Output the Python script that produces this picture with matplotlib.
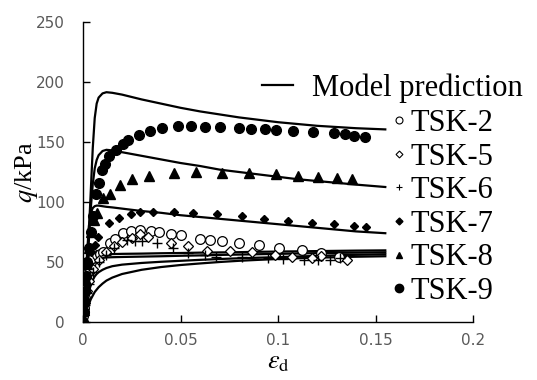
import matplotlib.pyplot as plt
from matplotlib.lines import Line2D

plt.rcParams['mathtext.fontset'] = 'stix'

# model prediction curves (strain, deviator stress kPa)
model_x = [0, 0.001, 0.002, 0.003, 0.004, 0.005, 0.006, 0.007, 0.008, 0.010, 0.012, 0.015,
           0.02, 0.03, 0.04, 0.05, 0.06, 0.07, 0.08, 0.09, 0.10, 0.11, 0.12, 0.13, 0.14, 0.155]
model_q = [
    [0, 20, 45, 75, 110, 145, 170, 182, 187, 190.5, 191.5, 191, 189.5, 185.5, 182, 178.5, 175.5,
     173, 170.5, 168.5, 166.5, 165, 163.5, 162.5, 161.5, 160.5],
    [0, 18, 40, 68, 95, 115, 128, 135, 139, 142.5, 143.5, 143, 141.5, 138.5, 135.5, 132.5, 130,
     127, 125, 123, 121, 119, 117.5, 116, 114.5, 112.5],
    [0, 25, 55, 80, 91, 95, 96.5, 97, 97, 96.5, 96, 95.5, 94.5, 92.5, 91, 89, 87.5, 86, 84.5, 83,
     81.5, 80, 78.5, 77, 75.5, 74],
    [0, 12, 25, 36, 45, 51, 54, 55.5, 56, 56.3, 56.5, 56.6, 56.8, 57, 57.3, 57.5, 57.8, 58, 58.2,
     58.5, 58.7, 58.9, 59.1, 59.3, 59.5, 59.7],
    [0, 10, 22, 32, 40, 46, 50, 52, 53, 53.5, 53.8, 54, 54.2, 54.5, 54.8, 55.2, 55.5, 55.9, 56.2,
     56.5, 56.8, 57.1, 57.4, 57.6, 57.8, 58.1],
    [0, 8, 17, 25, 31, 35, 38, 40, 41.5, 43.5, 45, 46.5, 47.8, 49.2, 50.2, 51, 51.8, 52.5, 53.1,
     53.6, 54.1, 54.6, 55.1, 55.6, 56, 56.5],
    [0, 5, 10, 15, 19, 22, 25, 27, 29, 32, 34.5, 37, 40, 43.5, 45.8, 47.5, 48.8, 50, 51, 51.8,
     52.5, 53.1, 53.6, 54, 54.4, 54.8],
]

tsk2_x = [0, 0.0003, 0.0008, 0.0012, 0.0017, 0.0023, 0.003, 0.004, 0.0051, 0.0072, 0.0087, 0.0103,
          0.0138, 0.0164, 0.0205, 0.0246, 0.0292, 0.0349, 0.039, 0.0451, 0.0503, 0.06, 0.0651,
          0.0713, 0.08, 0.0903, 0.1005, 0.1123, 0.122, 0.1313]
tsk2_q = [5, 12, 20, 28, 36, 42, 46, 50, 53, 56, 57, 58, 66, 69, 74, 76, 77, 76, 75, 73, 72.5,
          69, 68, 67.5, 66, 64, 61.7, 60, 57.5, 54]
tsk5_x = [0.0005, 0.001, 0.002, 0.003, 0.005, 0.008, 0.012, 0.016, 0.020, 0.025, 0.0292, 0.0333,
          0.0451, 0.0538, 0.0636, 0.0754, 0.0867, 0.0985, 0.1072, 0.1174, 0.1221, 0.1354]
tsk5_q = [8, 16, 26, 34, 44, 52, 58, 63, 67, 70, 73, 71, 66, 63, 59, 59, 58, 56, 54, 53, 55, 51.7]
tsk6_x = [0.0005, 0.001, 0.002, 0.003, 0.005, 0.008, 0.012, 0.016, 0.0226, 0.0267, 0.0303,
          0.0379, 0.0461, 0.0538, 0.0626, 0.0682, 0.0815, 0.0949, 0.1026, 0.1133, 0.1205, 0.1267,
          0.1318]
tsk6_q = [6, 14, 24, 32, 42, 50, 56, 62, 68, 67.5, 67.5, 66, 62, 57.5, 56, 54, 54, 53, 52.5, 51.7,
          51.7, 51.7, 53]
tsk7_x = [0.0005, 0.001, 0.0015, 0.002, 0.003, 0.004, 0.0062, 0.0077, 0.0133, 0.0185, 0.0246,
          0.0292, 0.0359, 0.0467, 0.0564, 0.0687, 0.0815, 0.0928, 0.1051, 0.1174, 0.1287, 0.139,
          0.1451]
tsk7_q = [8, 18, 28, 38, 48, 58, 64, 71, 82.5, 87, 90, 91.7, 91.7, 91.7, 90.8, 90, 88.3, 85.8, 84,
          82.5, 81.7, 80, 79.2]
tsk8_x = [0.0005, 0.001, 0.0015, 0.002, 0.003, 0.004, 0.0055, 0.0072, 0.0103, 0.0138, 0.019,
          0.0251, 0.0338, 0.0467, 0.058, 0.0713, 0.085, 0.099, 0.110, 0.1205, 0.13, 0.138]
tsk8_q = [10, 22, 35, 48, 62, 75, 85, 91, 103, 107, 114, 119, 122, 124, 125, 124, 124, 123, 122,
          121, 120, 119]
tsk9_x = [0, 0.0003, 0.0006, 0.001, 0.0015, 0.002, 0.003, 0.004, 0.005, 0.0067, 0.0082, 0.0097,
          0.0113, 0.0133, 0.0169, 0.0205, 0.023, 0.0287, 0.0344, 0.0405, 0.0487, 0.0554, 0.0626,
          0.0703, 0.080, 0.0862, 0.0933, 0.099, 0.1077, 0.118, 0.1287, 0.1344, 0.139, 0.1446]
tsk9_q = [0, 8, 16, 26, 38, 50, 62, 75, 88, 107, 116, 127, 132, 138, 143, 148, 152, 156, 159, 162,
          163.6, 163.6, 162.5, 162.5, 161.7, 161, 160.8, 160, 159, 158.3, 157.5, 156.7, 155, 154.2]

x_ticks = [0, 0.05, 0.1, 0.15, 0.2]
x_tick_labels = ['0', '0.05', '0.1', '0.15', '0.2']
y_ticks = [0, 50, 100, 150, 200, 250]

fig = plt.figure(figsize=(5.37, 3.8), dpi=100)
ax = fig.add_axes([0.1546, 0.1526, 0.7263, 0.7895])

for q in model_q:
    ax.plot(model_x, q, color='black', lw=1.6, zorder=2)

ax.plot(tsk2_x, tsk2_q, 'o', ls='none', mfc='white', mec='black', mew=0.9, ms=7, zorder=3)
ax.plot(tsk5_x, tsk5_q, 'D', ls='none', mfc='white', mec='black', mew=0.9, ms=5, zorder=3)
ax.plot(tsk6_x, tsk6_q, '+', ls='none', color='black', mew=1.0, ms=7, zorder=3)
ax.plot(tsk7_x, tsk7_q, 'D', ls='none', color='black', ms=4.5, zorder=3)
ax.plot(tsk8_x, tsk8_q, '^', ls='none', color='black', ms=7, zorder=3)
ax.plot(tsk9_x, tsk9_q, 'o', ls='none', color='black', ms=7, zorder=3)

ax.set_xlim(0, 0.2)
ax.set_ylim(0, 250)
ax.set_xticks(x_ticks)
ax.set_xticklabels(x_tick_labels)
ax.set_yticks(y_ticks)
for s in ['top', 'right']:
    ax.spines[s].set_visible(False)
for s in ['left', 'bottom']:
    ax.spines[s].set_linewidth(1.0)
ax.tick_params(direction='in', length=5, width=1.0, labelsize=11, labelcolor='#595959', pad=8)
ax.tick_params(axis='y', pad=13)

ax.set_ylabel(r'$q$/kPa', family='Liberation Serif', fontsize=19, labelpad=-3)
ax.set_xlabel(r'$\varepsilon_\mathrm{d}$', fontsize=19, labelpad=0)

font = {'family': 'Liberation Serif', 'size': 22}
leg1 = ax.legend([Line2D([], [], color='black', lw=1.6)], ['Model prediction'],
                 loc='center left', bbox_to_anchor=(262 / 537, 1 - 88 / 380),
                 bbox_transform=fig.transFigure, frameon=False, prop=font,
                 handlelength=1.0, handletextpad=0.65, borderpad=0, borderaxespad=0)
ax.add_artist(leg1)

handles = [
    Line2D([], [], marker='o', ls='none', mfc='white', mec='black', mew=0.8, ms=5),
    Line2D([], [], marker='D', ls='none', mfc='white', mec='black', mew=0.8, ms=3.5),
    Line2D([], [], marker='+', ls='none', color='black', mew=0.8, ms=5),
    Line2D([], [], marker='D', ls='none', color='black', ms=3.5),
    Line2D([], [], marker='^', ls='none', color='black', ms=5),
    Line2D([], [], marker='o', ls='none', color='black', ms=6),
]
labels = ['TSK-2', 'TSK-5', 'TSK-6', 'TSK-7', 'TSK-8', 'TSK-9']
ax.legend(handles, labels, loc='upper left', bbox_to_anchor=(391 / 537, 1 - 109 / 380),
          bbox_transform=fig.transFigure, frameon=False, prop=font,
          handlelength=0.5, handletextpad=0.15, labelspacing=0.15, borderpad=0, borderaxespad=0)

fig.savefig('out.png', dpi=100)
